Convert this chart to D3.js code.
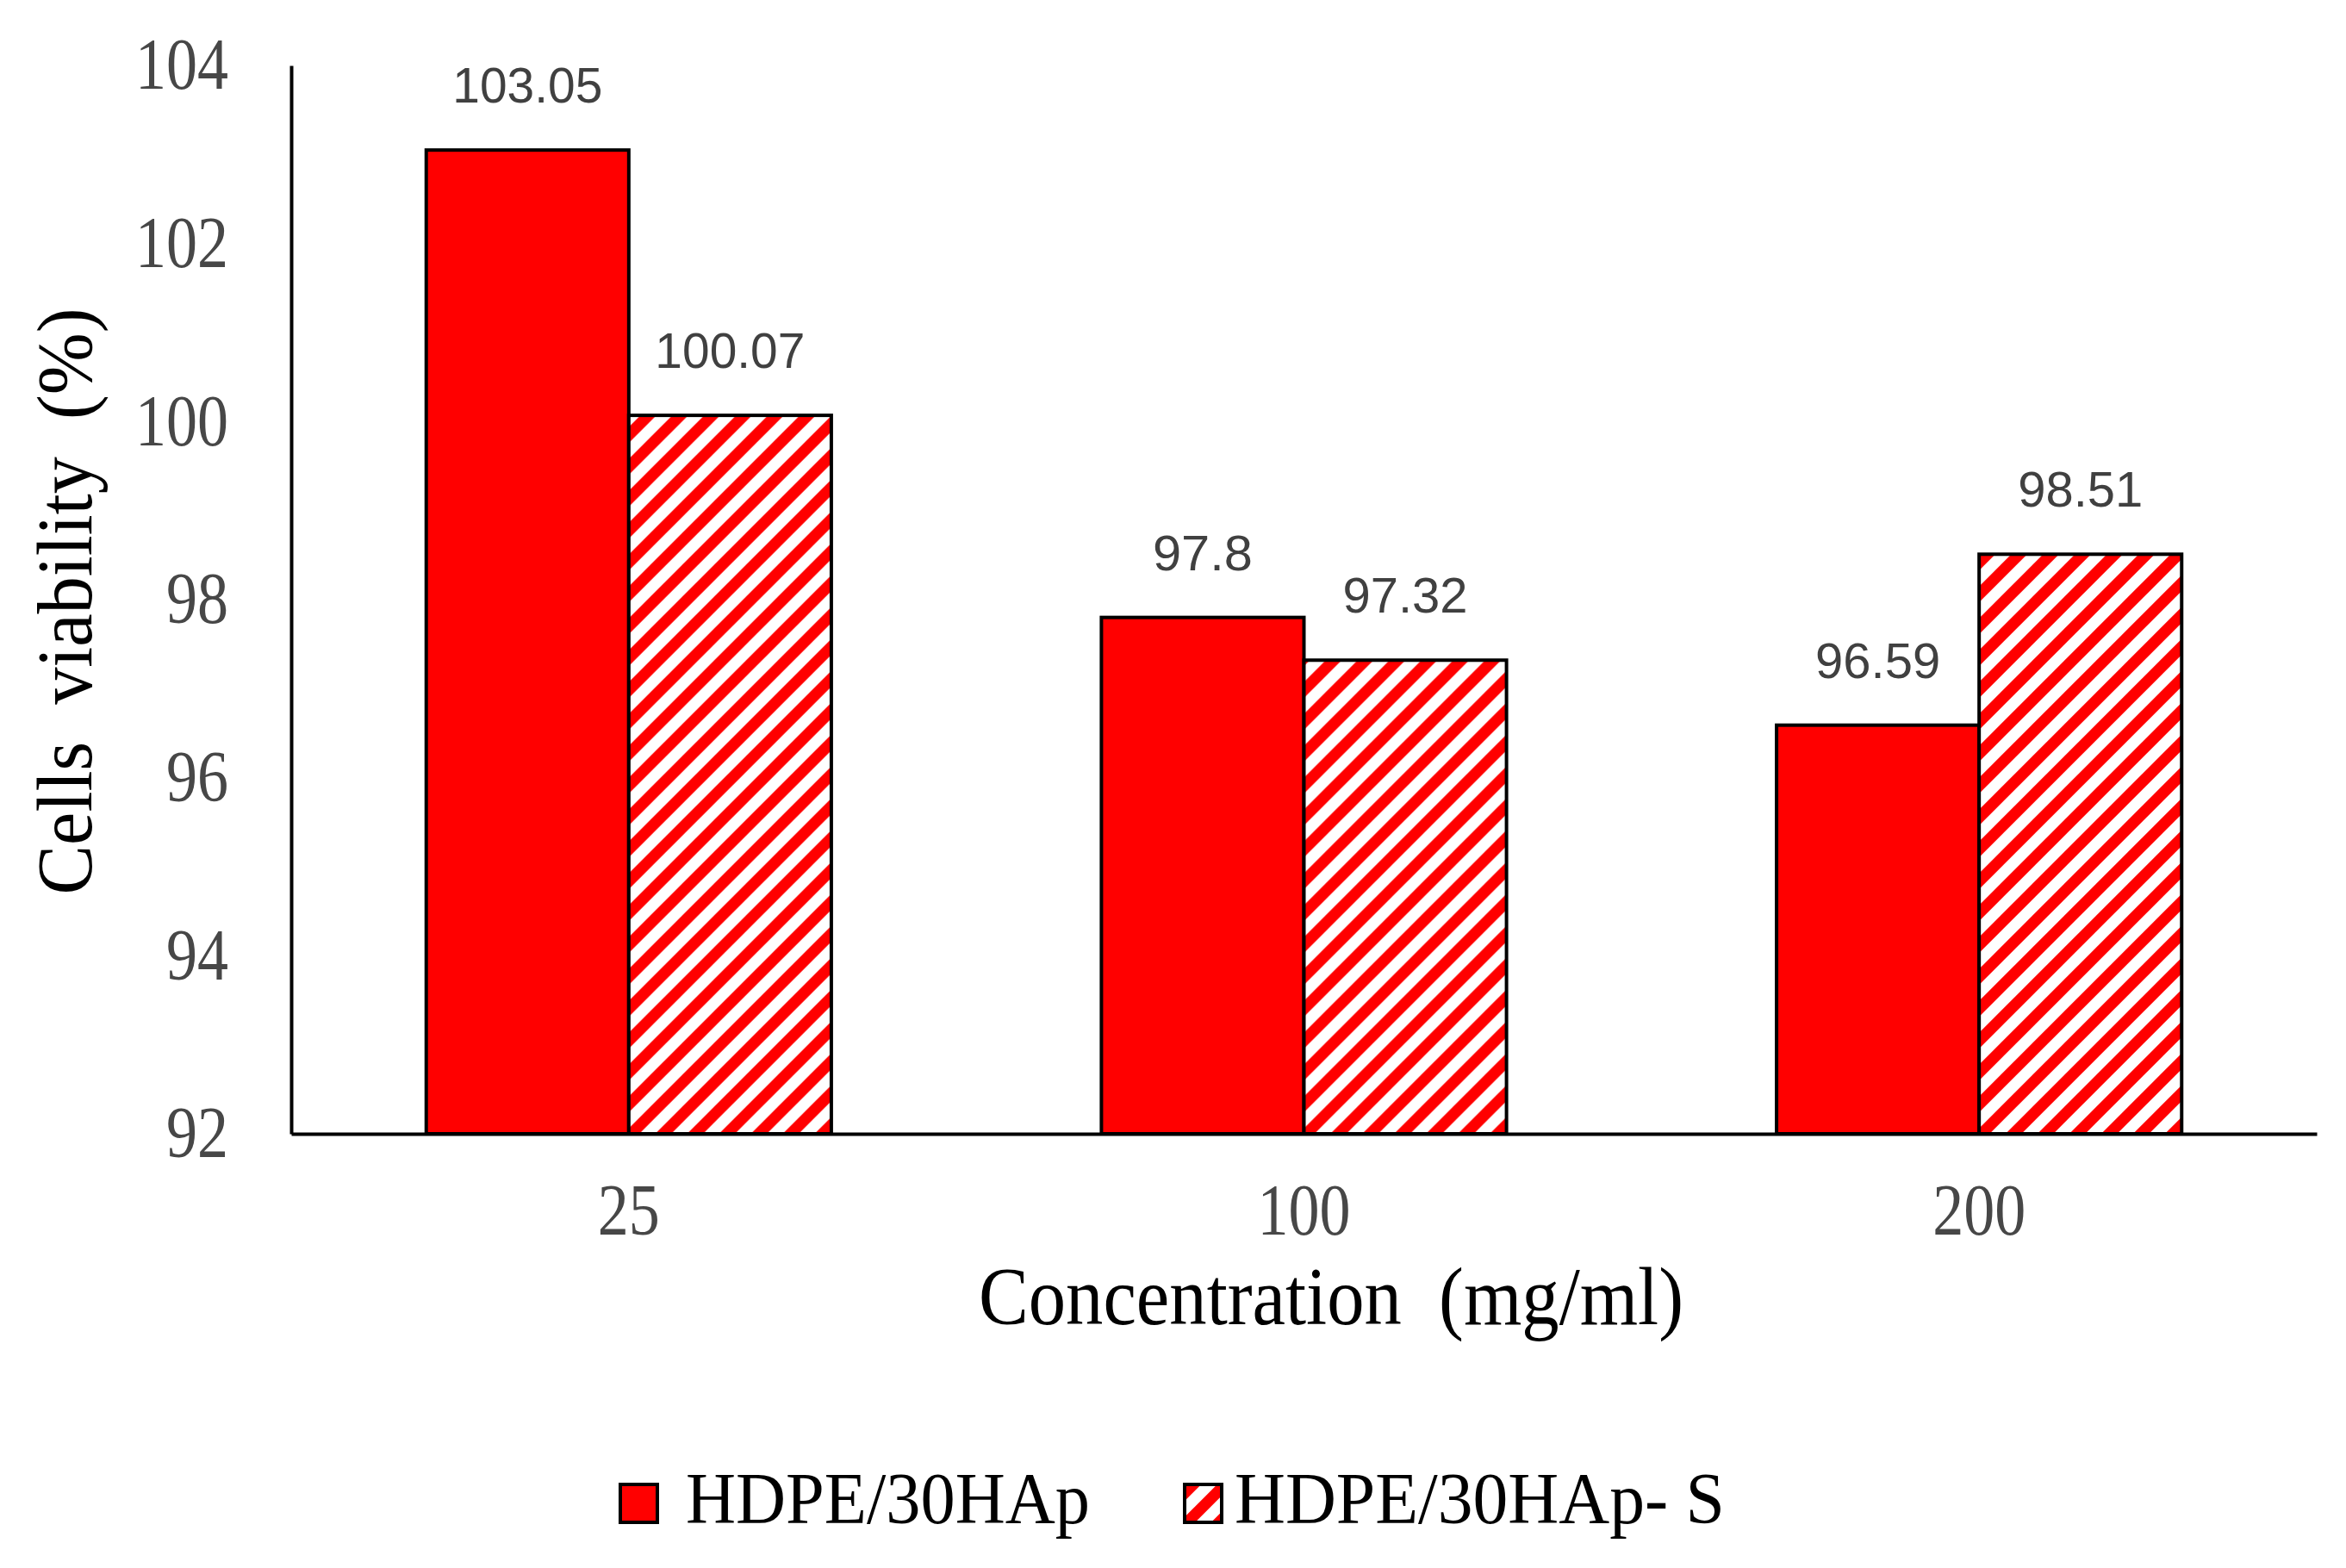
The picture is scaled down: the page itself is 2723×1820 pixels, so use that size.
<!DOCTYPE html>
<html><head><meta charset="utf-8">
<script src="https://cdn.jsdelivr.net/npm/d3@7"></script>
<style>html,body{margin:0;padding:0;background:#fff;} text.pre{white-space:pre;}</style>
</head><body>
<svg id="chart" width="2723" height="1820"></svg>
<script>
const categories = ["25", "100", "200"];
const seriesNames = ["HDPE/30HAp", "HDPE/30HAp- S"];
const valuesHDPE = [103.05, 97.8, 96.59];
const valuesHDPES = [100.07, 97.32, 98.51];
const yTicks = [92, 94, 96, 98, 100, 102, 104];
const yTitle = "Cells  viability  (%)";
const xTitle = "Concentration  (mg/ml)";

(function(){
const svg = d3.select("#chart");
const mLeft = 338, mRight = 2689, mTop = 76, mBottom = 1316;

const defs = svg.append("defs");
const s = 37;
const pat = defs.append("pattern").attr("id", "hatch").attr("patternUnits", "userSpaceOnUse")
  .attr("width", s).attr("height", s);
pat.append("rect").attr("width", s).attr("height", s).attr("fill", "#fff");
pat.append("path")
  .attr("d", `M0,${s} L${s},0 M${-s/2},${s/2} L${s/2},${-s/2} M${s/2},${1.5*s} L${1.5*s},${s/2}`)
  .attr("stroke", "#ff0000").attr("stroke-width", 13).attr("fill", "none");

const x0 = d3.scaleBand().domain(categories).range([mLeft, mRight]).paddingInner(0.4).paddingOuter(0.2);
const x1 = d3.scaleBand().domain(seriesNames).range([0, x0.bandwidth()]);
const y = d3.scaleLinear().domain([92, 104]).range([mBottom, mTop]);

const data = categories.map((c, i) => ({cat: c, vals: [
  {name: seriesNames[0], v: valuesHDPE[i]},
  {name: seriesNames[1], v: valuesHDPES[i]}]}));

const fills = {[seriesNames[0]]: "#ff0000", [seriesNames[1]]: "url(#hatch)"};

const g = svg.append("g");
const groups = g.selectAll("g.grp").data(data).join("g").attr("class", "grp")
  .attr("transform", d => `translate(${x0(d.cat)},0)`);
groups.selectAll("rect").data(d => d.vals).join("rect")
  .attr("x", d => x1(d.name)).attr("width", x1.bandwidth())
  .attr("y", d => y(d.v)).attr("height", d => y(92) - y(d.v))
  .attr("fill", d => fills[d.name]).attr("stroke", "#000").attr("stroke-width", 4);
groups.selectAll("text").data(d => d.vals).join("text")
  .attr("x", d => x1(d.name) + x1.bandwidth() / 2)
  .attr("y", d => y(d.v) - 55)
  .attr("text-anchor", "middle")
  .attr("font-family", "'Liberation Sans', Arial, sans-serif")
  .attr("font-size", 58).attr("fill", "#404040")
  .attr("textLength", d => String(d.v).length * 29).attr("lengthAdjust", "spacingAndGlyphs")
  .text(d => d.v);

const yAxis = svg.append("g").attr("transform", `translate(${mLeft},0)`)
  .call(d3.axisLeft(y).tickValues(yTicks).tickSize(0).tickSizeOuter(0).tickPadding(73).tickFormat(d3.format("d")));
yAxis.select(".domain").attr("stroke", "#000").attr("stroke-width", 4);
yAxis.selectAll("text").attr("font-family", "'Liberation Serif', 'Times New Roman', serif")
  .attr("font-size", 84).attr("fill", "#474747")
  .attr("textLength", function(d){ return String(d).length * 36; })
  .attr("lengthAdjust", "spacingAndGlyphs");

const xAxis = svg.append("g").attr("transform", `translate(0,${mBottom})`)
  .call(d3.axisBottom(x0).tickSize(0).tickSizeOuter(0).tickPadding(57));
xAxis.select(".domain").attr("stroke", "#000").attr("stroke-width", 4);
xAxis.selectAll("text").attr("font-family", "'Liberation Serif', 'Times New Roman', serif")
  .attr("font-size", 84).attr("fill", "#474747")
  .attr("textLength", function(d){ return String(d).length * 36; })
  .attr("lengthAdjust", "spacingAndGlyphs");

svg.append("text").attr("class", "pre")
  .attr("transform", `translate(106,698) rotate(-90)`)
  .attr("text-anchor", "middle")
  .attr("font-family", "'Liberation Serif', 'Times New Roman', serif")
  .attr("font-size", 92).attr("fill", "#000")
  .attr("textLength", 681).attr("lengthAdjust", "spacingAndGlyphs")
  .text(yTitle);
svg.append("text").attr("class", "pre")
  .attr("x", 1545).attr("y", 1537)
  .attr("text-anchor", "middle")
  .attr("font-family", "'Liberation Serif', 'Times New Roman', serif")
  .attr("font-size", 96).attr("fill", "#000")
  .attr("textLength", 818).attr("lengthAdjust", "spacingAndGlyphs")
  .text(xTitle);

const legendItems = [
  {name: seriesNames[0], sx: 720, tx: 796, tl: 469},
  {name: seriesNames[1], sx: 1375, tx: 1433, tl: 569}
];
const lg = svg.append("g");
lg.selectAll("rect").data(legendItems).join("rect")
  .attr("x", d => d.sx).attr("y", 1723).attr("width", 43).attr("height", 44)
  .attr("fill", d => fills[d.name])
  .attr("stroke", "#000").attr("stroke-width", 4);
lg.selectAll("text").data(legendItems).join("text")
  .attr("x", d => d.tx).attr("y", 1768)
  .attr("font-family", "'Liberation Serif', 'Times New Roman', serif")
  .attr("font-size", 84).attr("fill", "#000")
  .attr("textLength", d => d.tl).attr("lengthAdjust", "spacingAndGlyphs")
  .text(d => d.name);
})();
</script>
</body></html>
